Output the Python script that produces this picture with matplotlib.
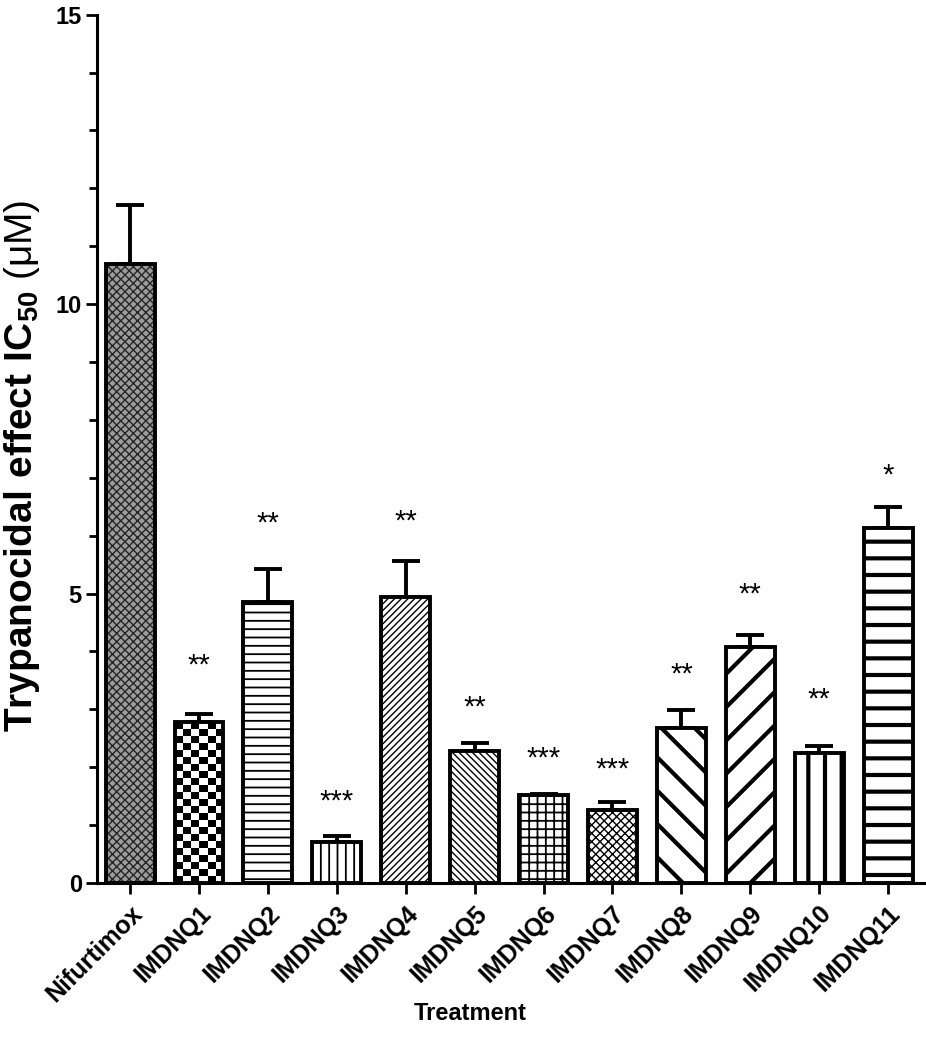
import numpy as np
import matplotlib
matplotlib.use("Agg")
import matplotlib.pyplot as plt

plt.rcParams['font.family'] = ['Liberation Sans', 'DejaVu Sans']
plt.rcParams['mathtext.fontset'] = 'custom'
plt.rcParams['mathtext.rm'] = 'Liberation Sans'
plt.rcParams['mathtext.bf'] = 'Liberation Sans:bold'

# data
treatments = ['Nifurtimox', 'IMDNQ1', 'IMDNQ2', 'IMDNQ3', 'IMDNQ4', 'IMDNQ5',
              'IMDNQ6', 'IMDNQ7', 'IMDNQ8', 'IMDNQ9', 'IMDNQ10', 'IMDNQ11']
ic50 = [10.69, 2.78, 4.85, 0.71, 4.94, 2.28, 1.52, 1.26, 2.68, 4.08, 2.25, 6.13]
sem = [1.02, 0.14, 0.57, 0.10, 0.62, 0.14, 0.02, 0.14, 0.31, 0.20, 0.12, 0.36]
stars = ['', '**', '**', '***', '**', '**', '***', '***', '**', '**', '**', '*']
star_y = [0, 3.89, 6.34, 1.54, 6.37, 3.16, 2.28, 2.09, 3.73, 5.11, 3.30, 7.17]

# fill styles: (hatch, facecolor, hatch colour, hatch line width)
styles = [
    ('xxxx', '#9c9c9c', '#262626', 1.0),
    (None, 'white', 'black', 1.0),     # checkerboard drawn separately
    ('--', 'white', 'black', 1.3),
    ('||', 'white', 'black', 1.3),
    ('/////', 'white', 'black', 1.0),
    ('\\\\\\\\\\', 'white', 'black', 1.0),
    ('++', 'white', 'black', 1.3),
    ('xxxx', 'white', 'black', 1.0),
    ('\\', 'white', 'black', 3.0),
    ('/', 'white', 'black', 3.0),
    ('|', 'white', 'black', 3.0),
    ('-', 'white', 'black', 3.0),
]

fig = plt.figure(figsize=(9.26, 10.5), dpi=100)
ax = fig.add_axes([0.1048, 0.159, 0.893, 0.827])

x = np.arange(len(treatments))
width = 0.71

for i in range(len(x)):
    h, fc, hc, hlw = styles[i]
    with plt.rc_context({'hatch.linewidth': hlw}):
        fill = ax.bar(x[i], ic50[i], width, color=fc, edgecolor=hc,
                      hatch=h, linewidth=0, zorder=2)[0]
    if i == 1:
        # checkerboard texture for IMDNQ1
        rows = int(round(ic50[i] * 57.9 / 7.0))
        cb = (np.indices((rows, 6)).sum(axis=0) % 2).astype(float)
        im = ax.imshow(cb, cmap='gray', interpolation='nearest', aspect='auto',
                       extent=(x[i] - width / 2, x[i] + width / 2, 0, ic50[i]),
                       zorder=2)
        im.set_clip_path(fill)

ax.bar(x, ic50, width, fill=False, edgecolor='black', linewidth=2.8, zorder=3)
ax.errorbar(x, ic50, yerr=[np.zeros(len(sem)), sem], fmt='none', ecolor='black',
            elinewidth=2.8, capsize=10, capthick=2.8, zorder=1)

for i in range(len(x)):
    if stars[i]:
        ax.text(x[i], star_y[i] - 0.27, stars[i], ha='center', va='baseline',
                fontsize=21)

ax.set_xlim(-0.48, 11.52)
ax.set_ylim(0, 15)
ax.set_yticks([0, 5, 10, 15])
ax.set_yticks(np.arange(0, 16, 1), minor=True)
ax.set_xticks(x)
ax.set_xticklabels(treatments, rotation=45, ha='right', rotation_mode='anchor',
                   fontsize=18, fontweight='bold')
for lab in ax.get_yticklabels():
    lab.set_fontweight('bold')
    lab.set_fontsize(17)

ax.spines['top'].set_visible(False)
ax.spines['right'].set_visible(False)
ax.spines['left'].set_linewidth(2.2)
ax.spines['bottom'].set_linewidth(2.2)
ax.tick_params(axis='y', which='major', length=8, width=2, pad=3)
ax.tick_params(axis='x', which='major', length=8, width=2, pad=5)
ax.tick_params(axis='y', which='minor', length=6, width=2)
ax.tick_params(axis='x', which='minor', length=0)

ax.set_ylabel(r'$\mathbf{Trypanocidal\ effect\ IC_{50}}$ (μM)', fontsize=28)
ax.yaxis.set_label_coords(-0.066, 0.48)
ax.set_xlabel('Treatment', fontsize=17, fontweight='bold')
ax.xaxis.set_label_coords(0.451, -0.137)

plt.savefig('out.png', dpi=100)
